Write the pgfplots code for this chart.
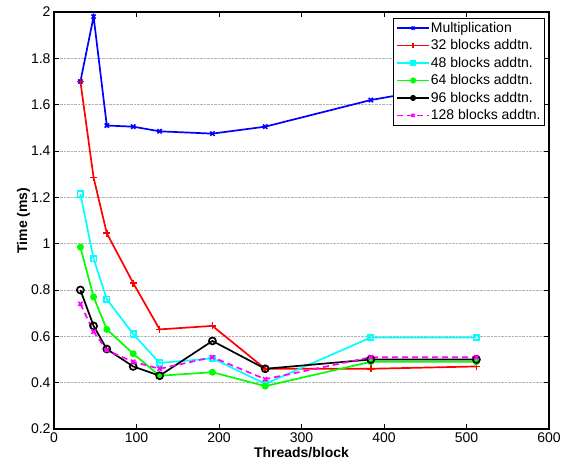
\documentclass[border=0pt]{standalone}
\usepackage{fontspec}
\setmainfont{Liberation Sans}
\usepackage{pgfplots}
\pgfplotsset{compat=1.18}
\definecolor{mblue}{rgb}{0,0,1}
\definecolor{mred}{rgb}{1,0,0}
\definecolor{mcyan}{rgb}{0,1,1}
\definecolor{mgreen}{rgb}{0,1,0}
\definecolor{mmag}{rgb}{1,0,1}

\begin{document}
\begin{tikzpicture}[font=\fontsize{14}{16}\selectfont]
\path[use as bounding box] (-54pt,-35.4pt) rectangle (508pt,429pt);
\begin{axis}[
  scale only axis, width=495pt, height=417pt,
  xmin=0, xmax=600, ymin=0.2, ymax=2,
  xtick={0,100,...,600}, ytick={0.2,0.4,...,2.01},
  yticklabels={0.2,0.4,0.6,0.8,1,1.2,1.4,1.6,1.8,2},
  xlabel={\textbf{Threads/block}}, ylabel={\textbf{Time (ms)}},
  xlabel style={yshift=2pt}, ylabel style={yshift=-6pt},
  tick label style={font=\fontsize{14}{16}\selectfont},
  label style={font=\fontsize{14}{16}\selectfont},
  /pgf/number format/assume math mode=true,
  tick align=inside, major tick length=5pt,
  tick style={black, line width=0.7pt},
  axis line style={line width=1.1pt},
  ymajorgrids, grid style={gray!60, densely dotted, line width=0.8pt},
  every axis plot/.append style={line width=1.7pt},
  legend cell align=left,
  legend style={at={(1,1)}, anchor=north east, xshift=-4pt, yshift=-6pt,
    font=\fontsize{14}{16}\selectfont,
    draw=black, line width=0.7pt, fill=white, row sep=3.8pt, inner sep=3pt,
    nodes={inner sep=1pt}},
  legend image code/.code={\draw[mark repeat=2, mark phase=2, mark size=2.2pt,
    line width=1.6pt, #1]
    plot coordinates {(0pt,0pt) (16pt,0pt) (32pt,0pt)};},
]
\addplot[mblue, mark=x, mark size=3pt] coordinates
  {(32,1.70) (48,1.98) (64,1.51) (96,1.505) (128,1.485) (192,1.475)
   (256,1.505) (384,1.62) (512,1.70)};
\addlegendentry{Multiplication}
\addplot[mred, mark=+, mark size=3.5pt] coordinates
  {(32,1.70) (48,1.285) (64,1.045) (96,0.83) (128,0.63) (192,0.645)
   (256,0.46) (384,0.46) (512,0.47)};
\addlegendentry{32 blocks addtn.}
\addplot[mcyan, mark=square, mark size=2.8pt] coordinates
  {(32,1.215) (48,0.935) (64,0.76) (96,0.61) (128,0.485) (192,0.505)
   (256,0.395) (384,0.595) (512,0.595)};
\addlegendentry{48 blocks addtn.}
\addplot[mgreen, mark=*, mark size=2.6pt] coordinates
  {(32,0.985) (48,0.77) (64,0.63) (96,0.525) (128,0.43) (192,0.445)
   (256,0.385) (384,0.49) (512,0.49)};
\addlegendentry{64 blocks addtn.}
\addplot[black, mark=o, mark size=3.5pt] coordinates
  {(32,0.80) (48,0.645) (64,0.545) (96,0.47) (128,0.43) (192,0.58)
   (256,0.46) (384,0.50) (512,0.50)};
\addlegendentry{96 blocks addtn.}
\addplot[mmag, dash pattern=on 6pt off 4pt, mark=x, mark size=3pt,
  mark options={solid}] coordinates
  {(32,0.74) (48,0.62) (64,0.54) (96,0.49) (128,0.46) (192,0.51)
   (256,0.415) (384,0.51) (512,0.51)};
\addlegendentry{128 blocks addtn.}
\end{axis}
\end{tikzpicture}
\end{document}
